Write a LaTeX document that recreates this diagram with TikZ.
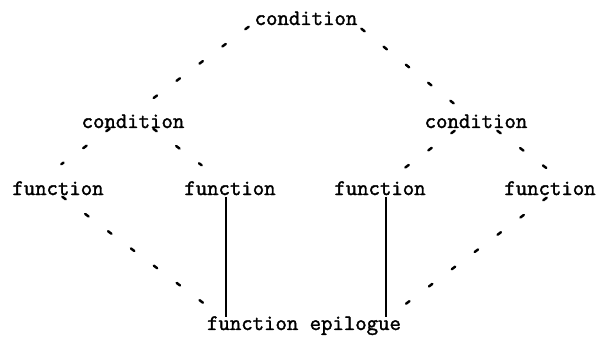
\documentclass[tikz,border=0pt]{standalone}
\usepackage{fontspec}
\newfontfamily\typew{Latin Modern Mono}[FakeBold=1.8]
\begin{document}
\begin{tikzpicture}[x=0.02cm,y=-0.02cm,
    word/.style={anchor=base,inner sep=0pt,font=\typew\fontsize{12.6}{14}\selectfont},
    dots/.style={line width=1.4pt,line cap=round,dash pattern=on 2.4pt off 13.9pt,
      shorten <=-1.2pt,shorten >=-1.2pt}]
  \useasboundingbox (0,0) rectangle (600,338);
  \node [word] (C) at (306,25) {condition};
  \node [word] (CL) at (133,128) {condition};
  \node [word] (CR) at (476,128) {condition};
  \node [word] (F1) at (58,195) {function};
  \node [word] (F2) at (230,195) {function};
  \node [word] (F3) at (380,195) {function};
  \node [word] (F4) at (550,195) {function};
  \node [word] (E) at (304,330) {function epilogue};
  % dotted branches
  \draw [dots] ([shift={(-59,3)}]C.base) -- ([shift={(22,-31)}]CL.base);
  \draw [dots] ([shift={(57,5)}]C.base) -- ([shift={(-24,-26)}]CR.base);
  \draw [dots] ([shift={(-25,2)}]CL.base) -- ([shift={(5,-32)}]F1.base);
  \draw [dots] ([shift={(22,2)}]CL.base) -- ([shift={(-30,-31)}]F2.base);
  \draw [dots] ([shift={(-23,4)}]CR.base) -- ([shift={(26,-28)}]F3.base);
  \draw [dots] ([shift={(23,4)}]CR.base) -- ([shift={(-5,-28)}]F4.base);
  \draw [dots] ([shift={(6,3)}]F1.base) -- ([shift={(-102,-28)}]E.base);
  \draw [dots] ([shift={(-5,4)}]F4.base) -- ([shift={(103,-27)}]E.base);
  % solid joins
  \draw [line width=1.1pt] ([shift={(-4,2)}]F2.base) -- ([shift={(-78,-13)}]E.base);
  \draw [line width=1.1pt] ([shift={(6,2)}]F3.base) -- ([shift={(82,-13)}]E.base);
\end{tikzpicture}
\end{document}
